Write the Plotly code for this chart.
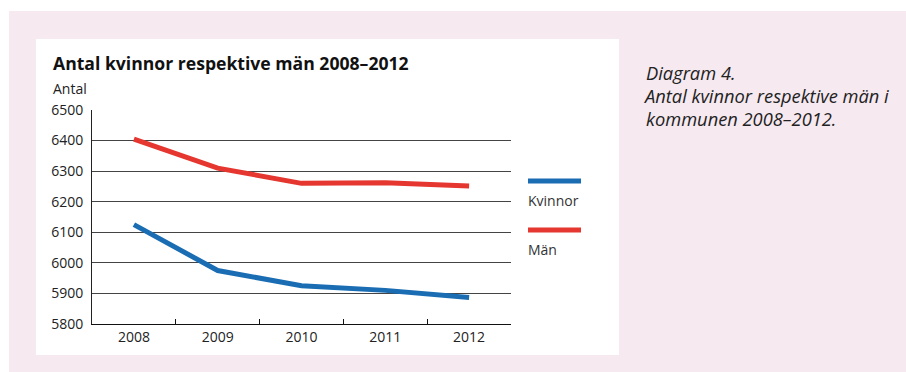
import plotly.graph_objects as go

# Befolkning per år
years = ["2008", "2009", "2010", "2011", "2012"]
kvinnor = [6125, 5975, 5925, 5910, 5887]
man = [6405, 6310, 6260, 6262, 6251]
y_ticks = [5800, 5900, 6000, 6100, 6200, 6300, 6400, 6500]

caption_lines = ["Diagram 4.", "Antal kvinnor respektive män i", "kommunen 2008–2012."]

BLUE = "#1a6db3"
RED = "#e5372f"
PINK = "#f6e9f0"
FONT = "Open Sans"

W, H = 906, 372
L, R, T, B = 92, 511, 110, 324


def px(x):
    return (x - L) / (R - L)


def py(y):
    return (B - y) / (B - T)


fig = go.Figure()
fig.add_trace(go.Scatter(x=years, y=kvinnor, mode="lines", name="Kvinnor",
                         line=dict(color=BLUE, width=5)))
fig.add_trace(go.Scatter(x=years, y=man, mode="lines", name="Män",
                         line=dict(color=RED, width=5)))

shapes = [
    # rosa bakgrund och vit diagramyta
    dict(type="rect", xref="paper", yref="paper", layer="below",
         x0=px(9), x1=px(906), y0=py(372), y1=py(11),
         fillcolor=PINK, line=dict(width=0)),
    dict(type="rect", xref="paper", yref="paper", layer="below",
         x0=px(36), x1=px(619), y0=py(355), y1=py(39),
         fillcolor="white", line=dict(width=0)),
    # teckenförklaring
    dict(type="line", xref="paper", yref="paper",
         x0=px(528), x1=px(581), y0=py(181), y1=py(181),
         line=dict(color=BLUE, width=5)),
    dict(type="line", xref="paper", yref="paper",
         x0=px(528), x1=px(581), y0=py(230), y1=py(230),
         line=dict(color=RED, width=5)),
]

annotations = [
    dict(text="<b>Antal kvinnor respektive män 2008–2012</b>", xref="paper", yref="paper",
         x=px(51), y=py(63), xanchor="left", yanchor="middle", showarrow=False,
         font=dict(family=FONT, size=17.6, color="#111")),
    dict(text="Antal", xref="paper", yref="paper",
         x=px(51), y=py(88), xanchor="left", yanchor="middle", showarrow=False,
         font=dict(family=FONT, size=14, color="#222")),
    dict(text="Kvinnor", xref="paper", yref="paper",
         x=px(526), y=py(200), xanchor="left", yanchor="middle", showarrow=False,
         font=dict(family=FONT, size=14, color="#333")),
    dict(text="Män", xref="paper", yref="paper",
         x=px(526), y=py(249), xanchor="left", yanchor="middle", showarrow=False,
         font=dict(family=FONT, size=14, color="#333")),
]

# bildtext till höger, en rad i taget (kursivt "A" behöver lite kompensation)
caption_x = [644, 641, 644]
for i, line in enumerate(caption_lines):
    annotations.append(dict(
        text=f"<i>{line}</i>", xref="paper", yref="paper",
        x=px(caption_x[i]), y=py(73 + 22.5 * i), xanchor="left", yanchor="middle",
        showarrow=False, font=dict(family=FONT, size=18.3, color="#222")))

fig.update_layout(
    width=W, height=H,
    margin=dict(l=L, r=W - R, t=T, b=H - B, pad=0),
    paper_bgcolor="white", plot_bgcolor="rgba(0,0,0,0)",
    showlegend=False,
    shapes=shapes, annotations=annotations,
    font=dict(family=FONT, size=14, color="#222"),
)
fig.update_xaxes(type="category", range=[-0.5, 4.5], tickson="boundaries",
                 ticks="inside", ticklen=5, tickcolor="#111", showline=True,
                 linecolor="#111", linewidth=1.2, showgrid=False,
                 tickfont=dict(size=14, color="#222"), fixedrange=True)
fig.update_yaxes(range=[5800, 6500], tickvals=y_ticks, showline=True, linecolor="#222",
                 linewidth=1, showgrid=True, gridcolor="#444", gridwidth=1,
                 zeroline=False, ticks="", ticklabelstandoff=5,
                 tickfont=dict(size=14, color="#222"), fixedrange=True)

fig.write_html("out.html")
